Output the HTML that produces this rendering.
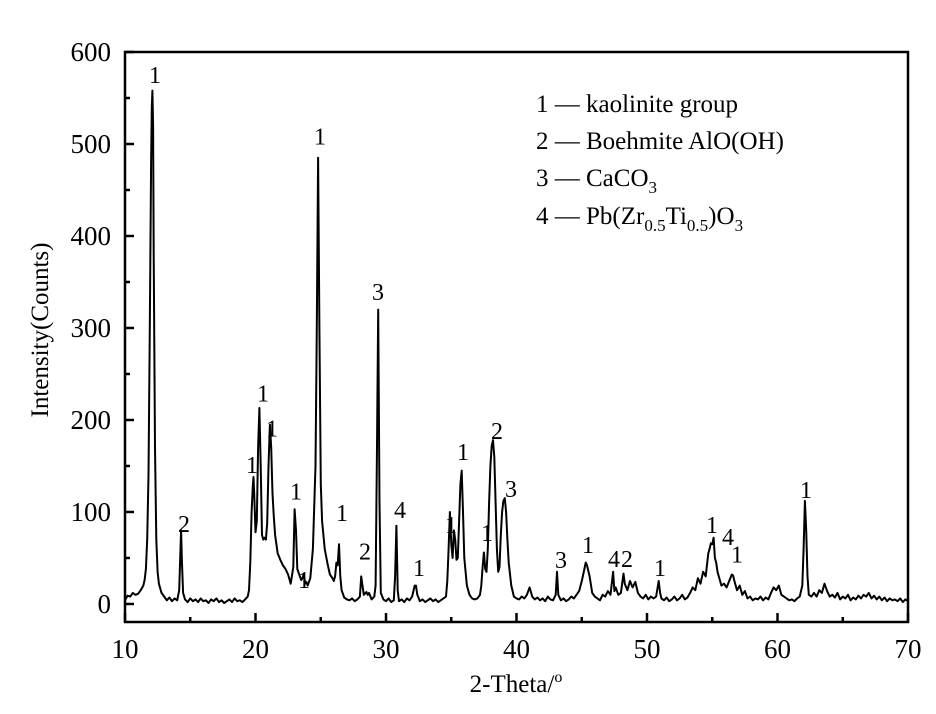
<!DOCTYPE html>
<html><head><meta charset="utf-8">
<style>
html,body{margin:0;padding:0;background:#fff;}
svg{display:block;font-family:"Liberation Serif",serif;}
</style></head>
<body>
<svg id="chart" width="936" height="714" viewBox="0 0 936 714" xmlns="http://www.w3.org/2000/svg">
<g id="ticks"></g>
<path id="trace" fill="none" stroke="#000" stroke-width="2" stroke-linejoin="round"/>
<g id="labels"></g>
<rect x="125" y="52" width="783" height="570" fill="none" stroke="#000" stroke-width="2.5"/>
<g font-size="25" fill="#000">
  <text x="536" y="112">1 — kaolinite group</text>
  <text x="536" y="149">2 — Boehmite AlO(OH)</text>
  <text x="536" y="186">3 — CaCO<tspan font-size="17" dy="7">3</tspan></text>
  <text x="536" y="224">4 — Pb(Zr<tspan font-size="17" dy="7">0.5</tspan><tspan dy="-7">Ti</tspan><tspan font-size="17" dy="7">0.5</tspan><tspan dy="-7">)O</tspan><tspan font-size="17" dy="7">3</tspan></text>
</g>
<text x="516" y="692" font-size="25" text-anchor="middle">2-Theta/<tspan font-size="16" dy="-10">o</tspan></text>
<text transform="translate(48,330) rotate(-90)" font-size="25" text-anchor="middle">Intensity(Counts)</text>
</svg>
<script>
const xTicks=[10,20,30,40,50,60,70];
const yTicks=[0,100,200,300,400,500,600];
const spectrum=[
[10,4],[10.2,9],[10.4,8],[10.6,12],[10.8,10],[11.0,11],[11.2,15],[11.4,20],[11.5,26],[11.6,38],[11.7,70],[11.8,140],[11.9,300],[12.0,480],[12.05,540],[12.1,558],[12.15,520],[12.2,380],[12.3,170],[12.4,70],[12.5,35],[12.6,22],[12.8,12],[13.0,8],[13.2,4],[13.4,7],[13.6,3],[13.8,6],[14.0,4],[14.15,15],[14.25,60],[14.3,80],[14.35,50],[14.45,12],[14.6,5],
[14.8,2],[15.0,6],[15.2,3],[15.4,5],[15.6,2],[15.8,6],[16.0,3],[16.2,4],[16.4,1],[16.6,5],[16.8,3],[17.0,6],[17.2,2],[17.4,4],[17.6,1],[17.8,3],[18.0,5],[18.2,2],[18.4,6],[18.6,3],[18.8,4],[19.0,2],[19.2,5],[19.4,8],[19.5,15],[19.6,45],[19.7,100],[19.8,130],[19.85,138],[19.9,120],[20.0,78],[20.1,90],[20.2,170],[20.3,213],[20.4,150],[20.5,75],[20.6,70],[20.7,72],[20.8,70],[20.9,88],[21.0,150],[21.1,195],[21.2,170],[21.3,120],[21.4,95],[21.5,75],[21.7,55],[21.9,48],[22.1,42],[22.3,38],[22.5,32],[22.7,22],[22.9,40],[23.0,103],[23.1,80],[23.2,38],[23.4,30],[23.5,26],[23.6,28],[23.7,33],[23.8,22],[23.9,24],[24.0,20],[24.2,28],[24.4,60],[24.6,150],[24.7,300],[24.8,485],[24.9,300],[25.0,130],[25.1,90],[25.3,60],[25.5,45],[25.7,32],[25.9,28],[26.0,25],[26.1,30],[26.2,45],[26.3,42],[26.4,65],[26.5,30],[26.6,15],[26.8,7],[27.0,5],[27.2,4],[27.4,6],[27.6,3],[27.8,5],[28.0,8],[28.1,30],[28.2,20],[28.3,10],[28.5,13],[28.6,10],[28.7,12],[28.9,5],[29.1,8],[29.2,20],[29.3,160],[29.4,320],[29.5,110],[29.6,12],[29.8,5],[30.0,3],[30.2,6],[30.4,2],[30.6,4],[30.7,30],[30.8,85],[30.9,15],[31.0,3],[31.2,5],[31.4,2],[31.6,6],[31.8,4],[32.0,8],[32.2,20],[32.3,20],[32.4,10],[32.6,3],[32.8,5],[33.0,2],[33.2,4],[33.4,6],[33.6,3],[33.8,5],[34.0,2],[34.2,4],[34.4,6],[34.6,8],[34.7,25],[34.8,60],[34.9,100],[35.0,65],[35.1,50],[35.2,80],[35.3,70],[35.4,48],[35.5,50],[35.6,90],[35.7,130],[35.8,145],[35.9,100],[36.0,50],[36.2,20],[36.4,10],[36.6,6],[36.8,5],[37.0,6],[37.2,10],[37.3,20],[37.4,40],[37.5,56],[37.6,38],[37.7,35],[37.8,60],[37.9,110],[38.0,150],[38.1,172],[38.2,178],[38.3,160],[38.4,110],[38.5,60],[38.6,35],[38.7,40],[38.8,75],[38.9,100],[39.0,112],[39.1,115],[39.2,100],[39.3,70],[39.4,45],[39.6,20],[39.8,8],[40.0,6],[40.2,5],[40.4,8],[40.6,6],[40.8,10],[41.0,18],[41.2,8],[41.4,5],[41.6,7],[41.8,4],[42.0,6],[42.2,3],[42.4,8],[42.6,5],[42.8,4],[43.0,10],[43.1,35],[43.2,10],[43.4,4],[43.6,6],[43.8,3],[44.0,5],[44.2,8],[44.4,6],[44.6,10],[44.8,14],[45.0,25],[45.2,38],[45.3,45],[45.4,42],[45.6,30],[45.8,12],[46.0,8],[46.2,6],[46.4,4],[46.6,10],[46.8,8],[47.0,14],[47.2,10],[47.4,35],[47.5,14],[47.6,18],[47.8,10],[48.0,12],[48.2,33],[48.3,22],[48.5,15],[48.7,25],[48.9,18],[49.1,24],[49.3,12],[49.5,8],[49.7,6],[49.9,10],[50.1,5],[50.3,8],[50.5,6],[50.7,8],[50.9,25],[51.0,12],[51.1,6],[51.3,4],[51.5,7],[51.7,3],[51.9,5],[52.1,8],[52.3,4],[52.5,6],[52.7,10],[52.9,5],[53.1,7],[53.3,12],[53.5,18],[53.7,15],[53.9,28],[54.1,22],[54.3,35],[54.5,30],[54.7,55],[54.8,60],[54.9,66],[55.0,65],[55.1,72],[55.2,50],[55.3,45],[55.4,35],[55.5,30],[55.7,20],[55.9,22],[56.1,18],[56.3,25],[56.5,32],[56.6,31],[56.7,25],[56.9,15],[57.1,20],[57.3,10],[57.5,14],[57.7,6],[57.9,8],[58.1,4],[58.3,6],[58.5,5],[58.7,8],[58.9,4],[59.1,7],[59.3,5],[59.5,12],[59.7,18],[59.9,15],[60.1,20],[60.3,10],[60.5,8],[60.7,6],[60.9,4],[61.1,5],[61.3,3],[61.5,6],[61.7,8],[61.9,20],[62.0,60],[62.1,112],[62.2,80],[62.3,30],[62.4,10],[62.6,8],[62.8,12],[63.0,8],[63.2,15],[63.4,12],[63.6,22],[63.8,14],[64.0,8],[64.2,10],[64.4,7],[64.6,12],[64.8,5],[65.0,8],[65.2,6],[65.4,10],[65.6,4],[65.8,7],[66.0,5],[66.2,9],[66.4,6],[66.6,10],[66.8,8],[67.0,12],[67.2,6],[67.4,9],[67.6,5],[67.8,8],[68.0,4],[68.2,7],[68.4,3],[68.6,6],[68.8,4],[69.0,5],[69.2,3],[69.4,6],[69.6,2],[69.8,5],[70,3]];
const peakLabelText=["1","2","1","1","1","1","1","1","1","2","3","4","1","1","1","1","2","3","3","1","4","2","1","1","4","1","1"];
const peakLabelX=[12.3,14.52,19.73,20.57,21.26,23.1,23.72,24.94,26.63,28.39,29.39,31.07,32.53,34.98,35.9,37.74,38.51,39.58,43.41,45.48,47.47,48.47,51.0,54.98,56.21,56.9,62.18];
const peakLabelY=[575,87,151,229,191,122,26,508,99,57,339,102,39,86,165,77,188,125,48,64,49,49,39,86,73,54,124];

const X0=125,X1=908,Y0=52,Y1=622,xMin=10,xMax=70,yMin=-19.6,yMax=600;
const sx=v=>X0+(v-xMin)/(xMax-xMin)*(X1-X0);
const sy=v=>Y1-(v-yMin)/(yMax-yMin)*(Y1-Y0);
const NS="http://www.w3.org/2000/svg";
const tg=document.getElementById('ticks');
function ln(x1,y1,x2,y2,name){const l=document.createElementNS(NS,'line');l.setAttribute('x1',x1);l.setAttribute('y1',y1);l.setAttribute('x2',x2);l.setAttribute('y2',y2);l.setAttribute('stroke','#000');l.setAttribute('stroke-width','2.5');


tg.appendChild(l);}
function tx(x,y,s,anchor,name){const t=document.createElementNS(NS,'text');t.setAttribute('x',x);t.setAttribute('y',y);t.setAttribute('font-size','27');t.setAttribute('text-anchor',anchor);t.textContent=s;


tg.appendChild(t);}
xTicks.forEach((v,i)=>{const x=sx(v);ln(x,Y1,x,Y1-9,'x-tick');tx(x,Y1+36,String(v),'middle','x-tick-label');
 if(i<xTicks.length-1){const m=sx(v+5);ln(m,Y1,m,Y1-5,'x-minor-tick');}});
yTicks.forEach((v,i)=>{const y=sy(v);ln(X0,y,X0+9,y,'y-tick');tx(X0-14,y+9,String(v),'end','y-tick-label');
 if(i<yTicks.length-1){const m=sy(v+50);ln(X0,m,X0+5,m,'y-minor-tick');}});
let d='';spectrum.forEach((p,i)=>{d+=(i?'L':'M')+sx(p[0]).toFixed(1)+','+sy(p[1]).toFixed(1);});
document.getElementById('trace').setAttribute('d',d);
const lg=document.getElementById('labels');
peakLabelText.forEach((s,i)=>{const t=document.createElementNS(NS,'text');t.setAttribute('x',sx(peakLabelX[i]));t.setAttribute('y',sy(peakLabelY[i])+8);t.setAttribute('font-size','24');t.setAttribute('text-anchor','middle');t.textContent=s;


lg.appendChild(t);});
</script>
</body></html>
